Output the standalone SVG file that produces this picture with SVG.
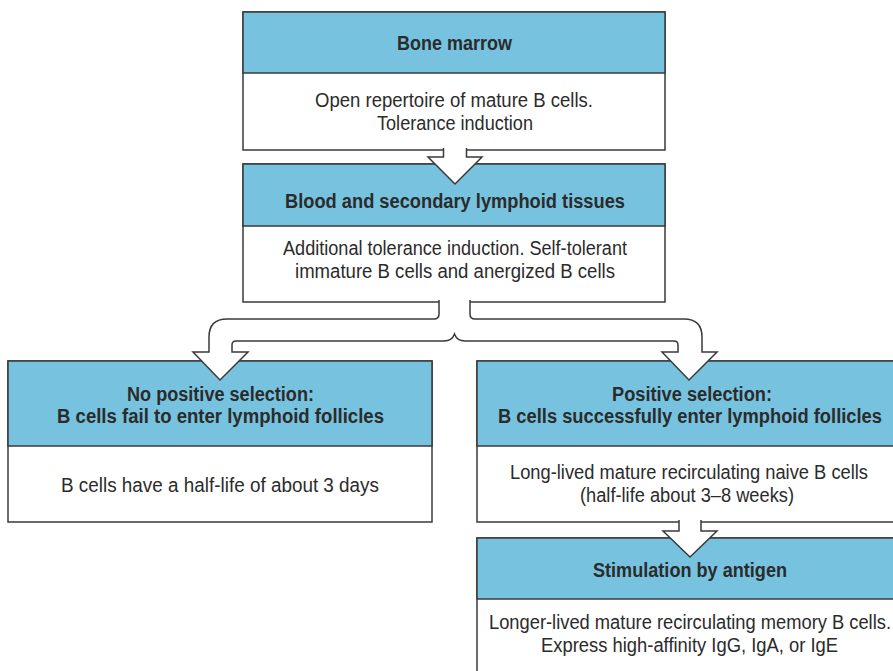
<svg xmlns="http://www.w3.org/2000/svg" width="893" height="671" viewBox="0 0 893 671">
  <style>
    .hdr { fill: #77c3df; stroke: #3a3a3a; stroke-width: 1.5; }
    .body { fill: #ffffff; stroke: #3a3a3a; stroke-width: 1.5; }
    .t { font-family: "Liberation Sans", Arial, sans-serif; font-size: 19.5px; fill: #2b2b2b; text-anchor: middle; }
    .b { font-weight: bold; font-size: 20px; }
    .arrow { fill: #ffffff; stroke: #3a3a3a; stroke-width: 1.5; stroke-linejoin: miter; }
  </style>
  <rect width="893" height="671" fill="#ffffff"/>

  <g id="bone-marrow">
    <rect class="body" x="243" y="12" width="422" height="138"/>
    <rect class="hdr" x="243" y="12" width="422" height="61"/>
    <text class="t b" x="454.5" y="50" textLength="115" lengthAdjust="spacingAndGlyphs">Bone marrow</text>
    <text class="t" x="454" y="107" textLength="278" lengthAdjust="spacingAndGlyphs">Open repertoire of mature B cells.</text>
    <text class="t" x="455" y="130" textLength="156" lengthAdjust="spacingAndGlyphs">Tolerance induction</text>
  </g>

  <g id="blood-secondary">
    <rect class="body" x="243" y="164" width="422" height="138"/>
    <rect class="hdr" x="243" y="164" width="422" height="62"/>
    <text class="t b" x="455" y="208" textLength="340" lengthAdjust="spacingAndGlyphs">Blood and secondary lymphoid tissues</text>
    <text class="t" x="455" y="255" textLength="344" lengthAdjust="spacingAndGlyphs">Additional tolerance induction. Self-tolerant</text>
    <text class="t" x="455" y="278" textLength="320" lengthAdjust="spacingAndGlyphs">immature B cells and anergized B cells</text>
  </g>

  <g id="no-positive-selection">
    <rect class="body" x="8" y="361" width="424" height="161"/>
    <rect class="hdr" x="8" y="361" width="424" height="85"/>
    <text class="t b" x="220.5" y="401" textLength="187" lengthAdjust="spacingAndGlyphs">No positive selection:</text>
    <text class="t b" x="220.5" y="423" textLength="327" lengthAdjust="spacingAndGlyphs">B cells fail to enter lymphoid follicles</text>
    <text class="t" x="220" y="492" textLength="318" lengthAdjust="spacingAndGlyphs">B cells have a half-life of about 3 days</text>
  </g>

  <g id="positive-selection">
    <rect class="body" x="477" y="361" width="424" height="161"/>
    <rect class="hdr" x="477" y="361" width="424" height="85"/>
    <text class="t b" x="692" y="401" textLength="160" lengthAdjust="spacingAndGlyphs">Positive selection:</text>
    <text class="t b" x="690" y="423" textLength="384" lengthAdjust="spacingAndGlyphs">B cells successfully enter lymphoid follicles</text>
    <text class="t" x="689" y="479" textLength="358" lengthAdjust="spacingAndGlyphs">Long-lived mature recirculating naive B cells</text>
    <text class="t" x="687" y="502" textLength="214" lengthAdjust="spacingAndGlyphs">(half-life about 3–8 weeks)</text>
  </g>

  <g id="antigen-stimulation">
    <rect class="body" x="477" y="538" width="424" height="145"/>
    <rect class="hdr" x="477" y="538" width="424" height="61"/>
    <text class="t b" x="690" y="577" textLength="194" lengthAdjust="spacingAndGlyphs">Stimulation by antigen</text>
    <text class="t" x="690" y="629" textLength="402" lengthAdjust="spacingAndGlyphs">Longer-lived mature recirculating memory B cells.</text>
    <text class="t" x="689.5" y="652" textLength="297" lengthAdjust="spacingAndGlyphs">Express high-affinity IgG, IgA, or IgE</text>
  </g>

  <g id="connectors">
    <!-- bone marrow to blood -->
    <path class="arrow" d="M443.5,148 L443.5,157 L428,157 L455,184 L482,157 L466.5,157 L466.5,148"/>
    <!-- split: blood to the two selection outcomes -->
    <path class="arrow" d="M439,300 L439,314 Q439,319 434,319 L227,319 Q209,319 209,337 L209,352 L193,352 L220,380 L248,352 L232,352 L232,345 Q232,341 236,341 L444,341 Q452,341 454.5,334 Q457,341 465,341 L674,341 Q678,341 678,345 L678,352 L662,352 L689,380 L717,352 L702,352 L702,337 Q702,319 684,319 L475,319 Q470,319 470,314 L470,300"/>
    <!-- positive selection to antigen stimulation -->
    <path class="arrow" d="M679,520 L679,531 L663,531 L690,557 L717,531 L701,531 L701,520"/>
  </g>
</svg>
